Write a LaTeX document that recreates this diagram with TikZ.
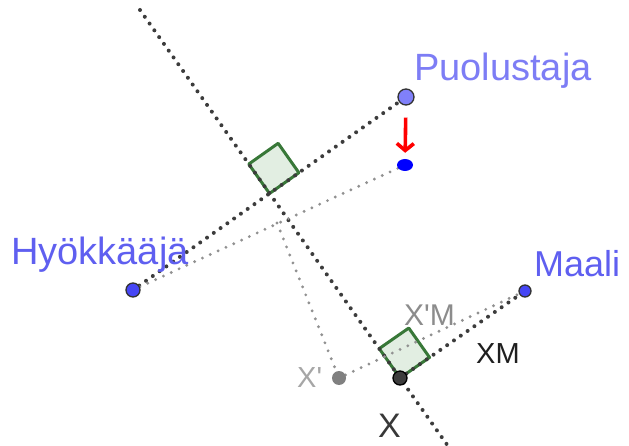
\documentclass[tikz,border=0pt]{standalone}
\usepackage{fontspec}
\newfontfamily\geofont{Liberation Sans}
\usetikzlibrary{arrows.meta,calc,backgrounds,shapes.geometric}

\definecolor{ptblue}{RGB}{70,70,245}
\definecolor{ptlilac}{RGB}{128,128,250}
\definecolor{lblblue}{RGB}{95,95,240}
\definecolor{lbllilac}{RGB}{125,125,245}
\definecolor{anglegreen}{RGB}{56,120,56}
\definecolor{anglefill}{RGB}{226,238,226}
\definecolor{darkdot}{RGB}{60,60,60}
\definecolor{lightdot}{RGB}{145,145,145}

\begin{document}
\begin{tikzpicture}[
  x=1pt, y=-1pt,
  pt/.style={circle, draw=black!80, line width=1.3pt, inner sep=0pt, minimum size=#1},
  lbl/.style={inner sep=0pt, anchor=base west, font=\geofont\fontsize{#1}{#1}\selectfont},
  lbl/.default=38,
  dotline/.style={darkdot, line width=4pt, line cap=round, dash pattern=on 0pt off 8.3pt},
  faint/.style={lightdot, line width=3.2pt, line cap=round, dash pattern=on 0pt off 8.6pt},
  rightang/.style={draw=anglegreen, fill=anglefill, line width=3pt, line join=round},
  move/.style={red, line width=3.6pt, -{Straight Barb[length=7pt, width=17pt]}},
]
\useasboundingbox (0,0) rectangle (629,446);

% ---- points ------------------------------------------------------------
\node[pt=16pt, fill=ptlilac] (puolustaja) at (406,97) {};
\node[pt=14pt, fill=ptblue]  (hyokkaaja)  at (133,290) {};
\node[pt=12pt, fill=ptblue]  (maali)      at (525,291) {};
\node[pt=14pt, fill=darkdot, draw=black] (xpiste) at (400,378) {};
\node[circle, fill=gray, inner sep=0pt, minimum size=14pt] (xpilkku) at (339,378) {};
\node[ellipse, fill=blue, inner sep=0pt, minimum width=16pt, minimum height=12pt] (uusipuol) at (405,165) {};

% ---- labels ------------------------------------------------------------
\node[lbl, lbllilac] (puollbl) at (414,81) {Puolustaja};
\node[lbl, lblblue] (hyoklbl) at (11,265) {Hyökkääjä};
\node[lbl=36, lblblue] (maalilbl) at (534,277) {Maali};
\node[lbl=34, black!78] (xlbl) at (378,437) {X};
\node[lbl=29, black!35] (xplbl) at (297,387) {X'};
\node[lbl=30, black!45] (xpmlbl) at (404,325) {X'M};
\node[lbl=29, black!88] (xmlbl) at (476,363) {XM};

% ---- helper coordinates ------------------------------------------------
\coordinate (ylos) at (140,10);
\coordinate (alas) at (448,446);
\coordinate (keski) at ($(hyokkaaja)!0.5!(puolustaja)$);
\coordinate (keski2) at (277,223);

% ---- move of the defender ----------------------------------------------
\draw[move, shorten <=12pt, shorten >=6pt] (puolustaja) -- (uusipuol);

\begin{scope}[on background layer]
  % right angles
  \path (keski) coordinate (a1) ($(keski)!36pt!(puolustaja)$) coordinate (a2)
        ($(keski)!36pt!(ylos)$) coordinate (a4);
  \draw[rightang] (a1) -- (a2) -- ($(a2)+(a4)-(a1)$) -- (a4) -- cycle;
  \path (xpiste) coordinate (b1) ($(xpiste)!36pt!(maali)$) coordinate (b2)
        ($(xpiste)!36pt!(ylos)$) coordinate (b4);
  \draw[rightang] (b1) -- (b2) -- ($(b2)+(b4)-(b1)$) -- (b4) -- cycle;
  % old position
  \draw[dotline] (ylos) -- (alas);
  \draw[dotline] (hyokkaaja) -- (puolustaja);
  \draw[dotline] (xpiste) -- (maali);
  % new position
  \draw[faint] (hyokkaaja) -- (uusipuol);
  \draw[faint] (keski2) -- (xpilkku);
  \draw[faint] (xpilkku) -- (maali);
\end{scope}

\end{tikzpicture}
\end{document}
